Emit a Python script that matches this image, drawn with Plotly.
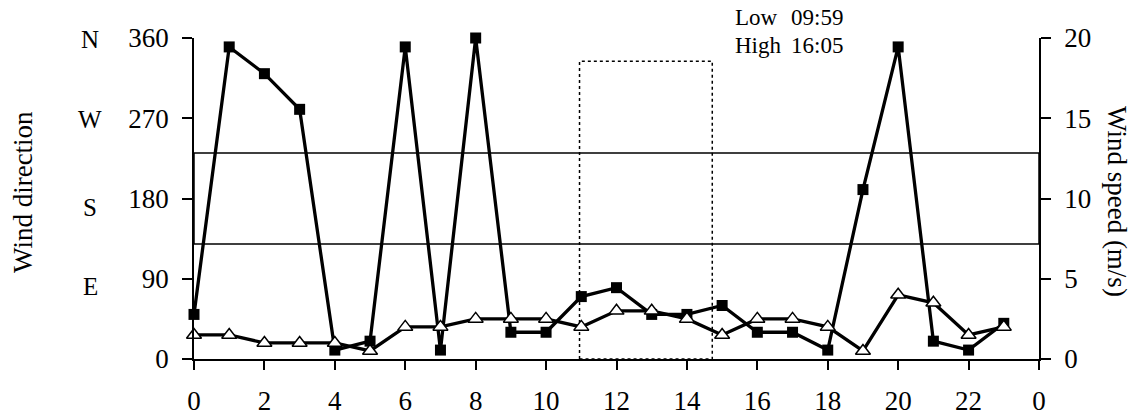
import plotly.graph_objects as go

# Hourly observations
hours = list(range(24))
wind_direction = [50, 350, 320, 280, 10, 20, 350, 10, 360, 30, 30, 70,
                  80, 50, 50, 60, 30, 30, 10, 190, 350, 20, 10, 40]
wind_speed = [1.5, 1.5, 1.0, 1.0, 1.0, 0.5, 2.0, 2.0, 2.5, 2.5, 2.5, 2.0,
              3.0, 3.0, 2.5, 1.5, 2.5, 2.5, 2.0, 0.5, 4.0, 3.5, 1.5, 2.0]

x_tick_vals = list(range(0, 25, 2))
x_tick_text = ["0", "2", "4", "6", "8", "10", "12", "14", "16", "18", "20", "22", "0"]
dir_tick_vals = [0, 90, 180, 270, 360]
speed_tick_vals = [0, 5, 10, 15, 20]
compass = [("N", 360), ("W", 270), ("S", 180), ("E", 90)]
tide_labels = [("Low", "09:59"), ("High", "16:05")]

FONT = '"Liberation Serif", "Times New Roman", Times, serif'
W, H = 1137, 417
L, R, T, B = 194, 98, 38, 58
PW, PH = W - L - R, H - T - B


def px_x(p):
    return (p - L) / PW


def px_y(p):
    return (H - B - p) / PH


fig = go.Figure()

fig.add_trace(go.Scatter(
    x=hours, y=wind_direction, mode="lines+markers", name="Wind direction",
    line=dict(color="black", width=3.3),
    marker=dict(symbol="square", size=11, color="black"),
    cliponaxis=False,
))
fig.add_trace(go.Scatter(
    x=hours, y=wind_speed, mode="lines+markers", name="Wind speed",
    yaxis="y2",
    line=dict(color="black", width=3.3),
    marker=dict(symbol="triangle-up", size=13, color="white",
                line=dict(color="black", width=1.5)),
    cliponaxis=False,
))

# Band across the whole day
fig.add_shape(type="rect", xref="x", yref="y", x0=0, x1=24, y0=129, y1=231,
              line=dict(color="black", width=1.5), fillcolor="rgba(0,0,0,0)",
              layer="below")
# Dotted box over the tide window
fig.add_shape(type="rect", xref="x", yref="y", x0=10.95, x1=14.72, y0=0, y1=334,
              line=dict(color="black", width=1.5, dash="dot"),
              fillcolor="rgba(0,0,0,0)", layer="below")

annotations = []
# Compass letters next to the direction ticks
compass_shift = {"N": -1, "W": -1, "S": -9, "E": -8}
for letter, deg in compass:
    annotations.append(dict(
        text=letter, xref="paper", yref="y", x=px_x(90), y=deg,
        yshift=compass_shift[letter], showarrow=False, xanchor="center",
        yanchor="middle", font=dict(family=FONT, size=25, color="black"),
    ))

for i, (lbl, tm) in enumerate(tide_labels):
    ypix = 17 + 28 * i
    annotations.append(dict(
        text=lbl, xref="paper", yref="paper", x=px_x(733), y=px_y(ypix),
        showarrow=False, xanchor="left", yanchor="middle",
        font=dict(family=FONT, size=23, color="black"),
    ))
    annotations.append(dict(
        text=tm, xref="paper", yref="paper", x=px_x(789), y=px_y(ypix),
        showarrow=False, xanchor="left", yanchor="middle",
        font=dict(family=FONT, size=23, color="black"),
    ))

annotations.append(dict(
    text="Wind direction", xref="paper", yref="paper", x=px_x(23), y=px_y(192),
    textangle=-90, showarrow=False, xanchor="center", yanchor="middle",
    font=dict(family=FONT, size=27, color="black"),
))
annotations.append(dict(
    text="Wind speed (m/s)", xref="paper", yref="paper", x=px_x(1117), y=px_y(201),
    textangle=90, showarrow=False, xanchor="center", yanchor="middle",
    font=dict(family=FONT, size=27, color="black"),
))

fig.update_layout(
    width=W, height=H,
    margin=dict(l=L, r=R, t=T, b=B, pad=0, autoexpand=False),
    paper_bgcolor="white", plot_bgcolor="white",
    showlegend=False,
    font=dict(family=FONT, size=27, color="black"),
    annotations=annotations,
    xaxis=dict(
        range=[0, 24], tickmode="array", tickvals=x_tick_vals, ticktext=x_tick_text,
        ticks="outside", ticklen=9, tickwidth=1.5, tickcolor="black",
        showline=True, linecolor="black", linewidth=1.5, automargin=False,
        showgrid=False, zeroline=False, ticklabelstandoff=8,
    ),
    yaxis=dict(
        range=[0, 360], tickmode="array", tickvals=dir_tick_vals,
        ticks="outside", ticklen=10, tickwidth=1.5, tickcolor="black",
        showline=True, linecolor="black", linewidth=1.5, automargin=False,
        showgrid=False, zeroline=False, ticklabelstandoff=8,
    ),
    yaxis2=dict(
        range=[0, 20], tickmode="array", tickvals=speed_tick_vals,
        overlaying="y", side="right", automargin=False,
        ticks="outside", ticklen=10, tickwidth=1.5, tickcolor="black",
        showline=True, linecolor="black", linewidth=1.5,
        showgrid=False, zeroline=False, ticklabelstandoff=8,
    ),
)

fig.write_html("out.html")
